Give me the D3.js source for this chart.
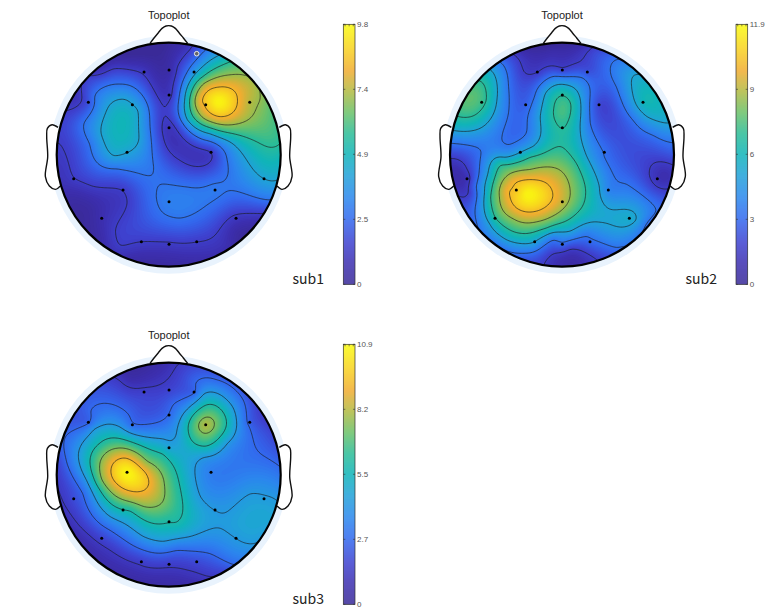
<!DOCTYPE html>
<html>
<head>
<meta charset="utf-8">
<script src="https://cdn.jsdelivr.net/npm/d3@7"></script>
<style>
  html, body { margin: 0; padding: 0; background: #fff; }
  svg { display: block; }
  text { font-family: "Liberation Sans", Arial, sans-serif; }
</style>
</head>
<body>
<svg width="777" height="615"></svg>
<script>
// electrode positions (crop pixels, head centre 416,464, radius 336)
const channelX = [342,417,492,175,307,417,527,659,417,291,543,131,279,417,555,702,215,334,417,500,618];
const channelY = [216,210,216,307,314,285,314,307,383,457,457,536,570,605,570,536,655,725,733,725,655];

// value at each electrode
const sub1Values = [1.3,0.5,3.8,1.8,4.2,1.0,8.4,7.3,1.0,4.2,1.3,1.4,1.4,3.1,3.0,4.2,0.8,1.4,1.3,1.4,1.2];
const sub2Values = [1.6,1.8,2.2,7.2,2.8,6.8,2.0,6.0,6.8,5.1,3.4,1.0,10.2,9.2,3.8,1.2,6.8,5.0,3.4,3.2,5.5];
const sub3Values = [1.7,1.8,2.4,2.4,2.8,2.8,8.2,2.4,4.6,10.9,3.4,2.1,5.9,5.9,4.3,4.4,1.8,1.6,1.6,2.0,4.3];

// contour levels
const sub1Levels = [1.4,2.8,4.2,5.6,7,8.4];
const sub2Levels = [1.7,3.4,5.1,6.8,8.5,10.2];
const sub3Levels = [1.4,2.8,4.3,5.9,7.5,9.3];

// extra readings between the electrodes: x, y, value
const sub1Extra = [
  [565,305,9.8],[513,305,8.4],[622,300,8.4],[565,262,8.4],[565,350,8.4],
  [600,225,7],[520,250,7],[495,305,7],[520,355,7],[590,375,7],[660,355,7],[692,300,7],[675,240,7],
  [600,185,5.6],[520,230,5.6],[478,300,5.6],[490,350,5.6],[560,390,5.6],[680,425,5.6],[750,433,5.6],
  [570,165,4.2],[465,300,4.2],[470,360,4.2],[540,400,4.2],[600,425,4.2],[650,480,4.2],[745,540,4.2],
  [525,150,2.8],[470,220,2.8],[447,290,2.8],[460,370,2.8],[520,420,2.8],[590,480,2.8],[595,520,2.8],[550,550,2.8],[470,560,2.8],[390,555,2.8],[378,590,2.8],[400,640,2.8],[450,655,2.8],[510,630,2.8],[580,580,2.8],[625,575,2.8],[720,600,2.8],
  [270,390,4.9],[285,297,4.2],[325,330,4.2],[328,420,4.2],[250,470,4.2],[212,400,4.2],[235,320,4.2],
  [270,253,2.8],[340,290,2.8],[360,380,2.8],[372,500,2.8],[340,525,2.8],[260,505,2.8],[180,430,2.8],[160,370,2.8],[190,290,2.8],
  [170,225,1.4],[250,205,1.4],[340,225,1.4],[390,300,1.4],[403,323,1.4],[440,200,1.4],[480,150,1.4],[110,330,1.4],[90,430,1.4],[130,530,1.4],[190,560,1.4],[292,610,1.4],[255,690,1.4],[270,740,1.4],[417,725,1.4],[560,700,1.4],[610,645,1.4],[690,640,1.4],
  [400,350,1.4],[450,480,1.4],[400,410,1.4],[430,420,0.9],[470,450,1.0],[500,462,1.0],
  [400,170,0.2],[300,170,0.2],[416,130,0.2],[130,600,0.4],[180,620,0.4],[417,790,0.4],[620,700,0.4],[200,720,0.4],[300,785,0.4],[500,790,0.5],[600,745,0.7],[720,320,6.3],[752,470,5.0],[85,510,1.1],[130,290,0.9],[200,200,0.4]
];
const sub2Extra = [
  [320,580,11.9],[262,575,10.2],[285,545,10.2],[350,540,10.2],[395,570,10.2],[395,600,10.2],[340,635,10.2],[290,625,10.2],
  [240,590,8.5],[260,530,8.5],[330,510,8.5],[420,510,8.5],[450,570,8.5],[430,625,8.5],[350,665,8.5],[280,655,8.5],
  [210,590,6.8],[240,490,6.8],[330,470,6.8],[420,440,6.8],[470,490,6.8],[497,570,6.8],[470,640,6.8],[380,685,6.8],[280,695,6.8],
  [195,580,5.1],[205,520,5.1],[255,475,5.1],[340,440,5.1],[360,350,5.1],[375,280,5.1],[420,252,5.1],[475,280,5.1],[482,350,5.1],[500,470,5.1],[540,560,5.1],[625,630,5.1],[652,660,5.1],[630,675,5.1],[540,668,5.1],[450,695,5.1],[340,730,5.1],[260,720,5.1],[210,670,5.1],
  [426,340,7.4],[403,320,6.8],[453,310,6.8],[435,385,6.8],[410,370,6.8],
  [245,190,3.4],[265,260,3.4],[248,410,3.4],[265,437,3.4],[320,400,3.4],[345,290,3.4],[400,228,3.4],[490,230,3.4],[510,290,3.4],[510,370,3.4],[550,470,3.4],[620,550,3.4],[712,630,3.4],
  [95,430,3.4],[185,455,3.4],[165,560,3.4],[165,640,3.4],[190,720,3.4],[290,760,3.4],[400,715,3.4],[500,705,3.4],[590,745,3.4],
  [585,180,3.4],[590,260,3.4],[640,360,3.4],[700,405,3.4],[757,427,3.4],
  [95,475,1.7],[140,510,1.7],[150,580,1.7],[285,165,1.7],[310,215,1.7],[480,185,1.7],[520,140,1.7],[373,798,1.7],[400,760,1.7],[450,745,1.7],[500,760,1.7],[540,790,1.7],[757,495,1.7],[690,510,1.7],[710,560,1.7],[757,560,1.7],
  [115,350,6.8],[160,348,6.8],[200,300,6.8],[190,250,6.8],[105,392,5.1],[180,385,5.1],[230,300,5.1],[213,210,5.1],
  [640,225,5.1],[640,290,5.1],[680,350,5.1],[750,370,5.1],[720,300,5.8],
  [400,150,0.7],[450,795,0.6],[110,510,0.9],[735,530,0.8],[130,300,7.6],
  [100,600,2.4],[130,680,2.4],[200,750,2.2],[300,785,2.2],[600,770,2.4],[690,680,2.6],[750,600,2.4],[757,450,2.9]
];
const sub3Extra = [
  [243,450,9.3],[285,413,9.3],[345,455,9.3],[357,490,9.3],[310,515,9.3],[265,495,9.3],
  [212,420,7.5],[260,385,7.5],[350,425,7.5],[403,500,7.5],[395,550,7.5],[340,560,7.5],[260,530,7.5],[215,480,7.5],
  [180,420,5.9],[210,370,5.9],[280,358,5.9],[400,400,5.9],[440,460,5.9],[457,540,5.9],[440,610,5.9],[300,570,5.9],[210,510,5.9],
  [145,400,4.3],[190,325,4.3],[270,320,4.3],[400,355,4.3],[440,345,4.3],[470,270,4.3],[520,220,4.3],[590,240,4.3],[620,310,4.3],[590,370,4.3],[520,410,4.3],[495,450,4.3],[510,530,4.3],[590,578,4.3],[660,520,4.3],[745,545,4.3],[170,480,4.3],[240,590,4.3],[340,650,4.3],[400,665,4.3],[480,650,4.3],[550,625,4.3],[670,672,4.3],[720,640,4.3],
  [527,255,5.9],[475,314,5.9],[590,314,5.9],[527,380,5.9],[505,314,7.5],[553,314,7.5],[527,292,7.5],[527,340,7.5],
  [105,350,2.8],[175,275,2.8],[300,285,2.8],[430,250,2.8],[490,190,2.8],[560,180,2.8],[640,240,2.8],[660,320,2.8],[690,400,2.8],[750,440,2.8],[110,430,2.8],[160,520,2.8],[240,630,2.8],[340,690,2.8],[440,690,2.8],[540,700,2.8],[610,735,2.8],
  [85,510,1.4],[150,620,1.4],[240,690,1.4],[340,740,1.4],[470,750,1.4],[535,770,1.4],[270,180,1.4],[440,135,1.4],
  [710,330,2.0],[680,250,1.7],[300,170,0.5],[350,150,0.5],[416,130,0.9],[417,790,0.6],[600,770,1.4],[90,430,2.0],[200,750,0.5],[130,660,0.5],[740,600,4.6],[600,480,3.4],[620,610,4.6]
];

const sub1Ticks = ["0","2.5","4.9","7.4","9.8"];
const sub2Ticks = ["0","3","6","9","11.9"];
const sub3Ticks = ["0","2.7","5.5","8.2","10.9"];

const sub1Max = 9.8, sub2Max = 11.9, sub3Max = 10.9;

// colour ramp for the bar, bottom to top
const rampPos = [0,0.08,0.16,0.25,0.33,0.42,0.5,0.58,0.66,0.74,0.82,0.9,1];
const rampStops = ["#3a2a98","#3c2fb0","#3e42d0","#3268ee","#2b86ee","#20a2d8","#10b4b8","#2cbc96","#6ac068","#b0ba42","#f0ac30","#f8d020","#f9fb0e"];

const svg = d3.select("svg");
const ramp = d3.scaleLinear().domain(rampPos).range(rampStops).interpolate(d3.interpolateRgb);

const panels = [
  { name: "sub1", values: sub1Values, extra: sub1Extra, ticks: sub1Ticks, levels: sub1Levels, max: sub1Max, cx: 168.7, cy: 154.7, barX: 343.3, barY: 24.3, labelX: 292.5, labelY: 284, readCx: 416, ringed: true },
  { name: "sub2", values: sub2Values, extra: sub2Extra, ticks: sub2Ticks, levels: sub2Levels, max: sub2Max, cx: 562, cy: 154.7, barX: 736, barY: 24.3, labelX: 685.5, labelY: 284, readCx: 426, ringed: false },
  { name: "sub3", values: sub3Values, extra: sub3Extra, ticks: sub3Ticks, levels: sub3Levels, max: sub3Max, cx: 168.7, cy: 474.7, barX: 343.3, barY: 344.3, labelX: 292.5, labelY: 604, readCx: 416, ringed: false }
];

const R = 112;
const N = 170;

// biharmonic spline, same idea as griddata v4
function green(r2) {
  return r2 < 1e-12 ? 0 : r2 * (0.5 * Math.log(r2) - 1);
}
function solve(A, b) {
  const n = b.length;
  for (let i = 0; i < n; i++) {
    let p = i;
    for (let k = i + 1; k < n; k++) if (Math.abs(A[k][i]) > Math.abs(A[p][i])) p = k;
    [A[i], A[p]] = [A[p], A[i]];
    [b[i], b[p]] = [b[p], b[i]];
    for (let k = i + 1; k < n; k++) {
      const f = A[k][i] / A[i][i];
      if (f === 0) continue;
      for (let j = i; j < n; j++) A[k][j] -= f * A[i][j];
      b[k] -= f * b[i];
    }
  }
  const x = new Array(n).fill(0);
  for (let i = n - 1; i >= 0; i--) {
    let s = b[i];
    for (let j = i + 1; j < n; j++) s -= A[i][j] * x[j];
    x[i] = s / A[i][i];
  }
  return x;
}
function buildField(p) {
  const pts = channelX.map((x, i) => [(x - 416) / 336, (channelY[i] - 464) / 336, p.values[i]]);
  p.extra.forEach(e => pts.push([(e[0] - p.readCx) / 336, (e[1] - 464) / 336, e[2]]));
  const A = pts.map((a, i) => pts.map((b, j) => {
    const dx = a[0] - b[0], dy = a[1] - b[1];
    return green(dx * dx + dy * dy) + (i === j ? 0.004 : 0);
  }));
  const w = solve(A, pts.map(d => d[2]));
  const grid = new Float64Array(N * N);
  const toHead = d3.scaleLinear().domain([0, N - 1]).range([-1.04, 1.04]);
  for (let j = 0; j < N; j++) {
    const y = toHead(j);
    for (let i = 0; i < N; i++) {
      const x = toHead(i);
      let s = 0;
      for (let k = 0; k < pts.length; k++) {
        const dx = x - pts[k][0], dy = y - pts[k][1];
        s += w[k] * green(dx * dx + dy * dy);
      }
      grid[j * N + i] = Math.max(0, Math.min(p.max, s));
    }
  }
  return grid;
}

function drawPanel(p, idx) {
  const g = svg.append("g").attr("class", p.name);
  const grid = buildField(p);
  const color = v => ramp(v / p.max);

  // contour coordinates sit on cell centres, so shift by half a cell
  const xPix = d3.scaleLinear().domain([0.5, N - 0.5]).range([p.cx - 1.04 * R, p.cx + 1.04 * R]);
  const yPix = d3.scaleLinear().domain([0.5, N - 0.5]).range([p.cy - 1.04 * R, p.cy + 1.04 * R]);
  const path = d3.geoPath(d3.geoTransform({
    point(x, y) { this.stream.point(xPix(x), yPix(y)); }
  }));

  // pale halo behind the head
  g.append("circle").attr("cx", p.cx).attr("cy", p.cy).attr("r", 119).attr("fill", "#e9f3fd");

  // nose and ears
  const readX = d3.scaleLinear().domain([80, 752]).range([p.cx - R, p.cx + R]);
  const readY = d3.scaleLinear().domain([128, 800]).range([p.cy - R, p.cy + R]);
  const outline = d3.line().x(d => readX(d[0])).y(d => readY(d[1])).curve(d3.curveCatmullRom.alpha(0.5));
  const nose = [[360,130],[372,114],[385,98],[396,85],[408,78],[424,78],[436,85],[447,98],[460,114],[473,130]];
  const earL = [[84,382],[66,374],[52,385],[50,410],[53,470],[46,530],[58,558],[76,568],[91,558]];
  const earR = earL.map(d => [832 - d[0], d[1]]);
  [nose, earL, earR].forEach(d => {
    g.append("path").attr("d", outline(d)).attr("fill", "#fff").attr("stroke", "#111").attr("stroke-width", 1.4);
  });

  const clipId = "clip" + idx;
  svg.append("clipPath").attr("id", clipId).append("circle").attr("cx", p.cx).attr("cy", p.cy).attr("r", R);
  const inner = g.append("g").attr("clip-path", `url(#${clipId})`);

  inner.append("rect").attr("x", p.cx - R).attr("y", p.cy - R).attr("width", 2 * R).attr("height", 2 * R).attr("fill", color(0));
  const fillLevels = d3.range(1, 90).map(i => p.max * i / 90);
  inner.selectAll("path.band")
    .data(d3.contours().size([N, N]).thresholds(fillLevels)(grid))
    .enter().append("path")
    .attr("class", "band")
    .attr("d", path)
    .attr("fill", d => color(d.value));

  inner.selectAll("path.iso")
    .data(d3.contours().size([N, N]).thresholds(p.levels)(grid))
    .enter().append("path")
    .attr("class", "iso")
    .attr("d", path)
    .attr("fill", "none")
    .attr("stroke", "#1a1a1a")
    .attr("stroke-opacity", 0.85)
    .attr("stroke-width", 0.75);

  g.append("circle").attr("cx", p.cx).attr("cy", p.cy).attr("r", R).attr("fill", "none").attr("stroke", "#000").attr("stroke-width", 2.2);

  // electrodes
  g.selectAll("circle.chan")
    .data(channelX)
    .enter().append("circle")
    .attr("class", "chan")
    .attr("cx", (d, i) => p.cx + (d - 416) / 3)
    .attr("cy", (d, i) => p.cy + (channelY[i] - 464) / 3)
    .attr("r", 1.5)
    .attr("fill", "#000");

  if (p.ringed) {
    g.append("circle").attr("cx", p.cx + (500 - 416) / 3).attr("cy", p.cy + (161 - 464) / 3)
      .attr("r", 2.3).attr("fill", "#666").attr("stroke", "#e8e8e8").attr("stroke-width", 1);
  }

  g.append("text").attr("x", p.cx).attr("y", 19 + (idx === 2 ? 320 : 0)).attr("text-anchor", "middle")
    .attr("font-size", 11).attr("fill", "#222").text("Topoplot");

  g.append("text").attr("x", p.labelX).attr("y", p.labelY).attr("font-size", 14)
    .style("font-family", '"Noto Sans CJK SC", "Noto Sans", sans-serif').attr("fill", "#222").text(p.name);

  // colour bar
  const barW = 11.7, barH = 260;
  const bar = g.append("g").attr("transform", `translate(${p.barX},${p.barY})`);
  const barScale = d3.scaleLinear().domain([0, p.max]).range([barH, 0]);
  bar.selectAll("rect")
    .data(d3.range(0, barH))
    .enter().append("rect")
    .attr("x", 0).attr("width", barW)
    .attr("y", d => d).attr("height", 1.2)
    .attr("fill", d => color(barScale.invert(d + 0.5)));
  const tickVals = p.ticks.map((t, i) => p.max * i / 4);
  const axis = d3.axisRight(barScale).tickValues(tickVals).tickSize(0).tickPadding(2 + barW)
    .tickFormat((d, i) => p.ticks[i]);
  const ag = bar.append("g").call(axis);
  ag.select(".domain").remove();
  ag.selectAll("text").attr("font-size", 8).attr("fill", "#555").style("font-family", '"Liberation Sans", Arial, sans-serif');
  bar.append("rect").attr("width", barW).attr("height", barH).attr("fill", "none").attr("stroke", "#333").attr("stroke-width", 0.7);
  bar.selectAll("line.in").data(tickVals).enter().append("line").attr("class", "in")
    .attr("x1", 0).attr("x2", 2).attr("y1", d => barScale(d)).attr("y2", d => barScale(d)).attr("stroke", "#333").attr("stroke-width", 0.6);
  bar.selectAll("line.in2").data(tickVals).enter().append("line").attr("class", "in2")
    .attr("x1", barW - 2).attr("x2", barW).attr("y1", d => barScale(d)).attr("y2", d => barScale(d)).attr("stroke", "#333").attr("stroke-width", 0.6);
  bar.selectAll("line.top").data([0.15, 0.5, 0.85]).enter().append("line").attr("class", "top")
    .attr("x1", d => d * barW).attr("x2", d => d * barW).attr("y1", 0).attr("y2", 2).attr("stroke", "#333").attr("stroke-width", 0.6);
}

panels.forEach(drawPanel);
</script>
</body>
</html>
